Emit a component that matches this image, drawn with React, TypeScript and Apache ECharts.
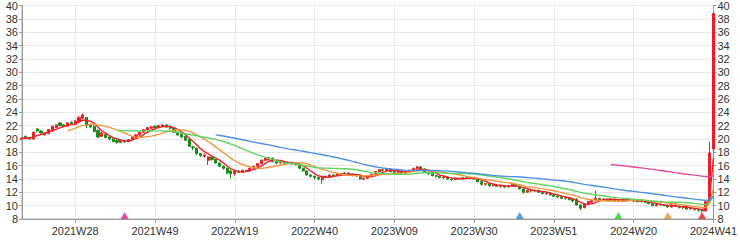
import React, { useEffect, useRef } from "react";
import * as echarts from "echarts";

// week categories: 2021W14 .. 2024W41 (2022W05 holiday week absent)
const weekRanges: [number, number, number][] = [
  [2021, 14, 52],
  [2022, 1, 52],
  [2023, 1, 52],
  [2024, 1, 41],
];
const skippedWeeks = ["2022W05"];
const categories: string[] = [];
weekRanges.forEach(([y, a, b]) => {
  for (let w = a; w <= b; w++) {
    const s = `${y}W${String(w).padStart(2, "0")}`;
    if (!skippedWeeks.includes(s)) categories.push(s);
  }
});

const opens = [
  20.0, 20.4, 20.2, 20.0, 21.5, 21.2, 20.6, 20.8, 21.2, 21.7,
  22.4, 22.1, 21.9, 22.5, 22.2, 22.6, 23.1, 23.2, 22.1, 21.9,
  21.3, 20.4, 20.7, 20.3, 20.0, 19.8, 19.5, 19.7, 19.6, 19.9,
  20.2, 20.6, 21.0, 21.3, 21.6, 21.9, 21.7, 21.9, 22.1, 21.9,
  21.6, 21.0, 20.7, 20.4, 19.9, 18.8, 18.6, 17.8, 17.4, 16.8,
  17.3, 16.9, 16.4, 15.9, 15.6, 15.2, 14.8, 15.2, 15.0, 15.3,
  15.2, 15.6, 15.9, 16.3, 16.8, 16.9, 17.1, 16.6, 16.4, 16.6,
  16.3, 16.5, 16.4, 16.2, 15.6, 15.2, 14.6, 14.4, 14.2, 13.9,
  14.4, 14.3, 14.6, 14.5, 14.8, 14.6, 14.9, 14.7, 14.5, 14.6,
  14.0, 14.1, 14.4, 14.7, 15.1, 15.4, 15.3, 15.5, 15.1, 15.0,
  15.2, 14.9, 15.1, 15.3, 15.6, 15.8, 15.5, 15.0, 14.8, 14.5,
  14.4, 14.2, 14.3, 14.0, 13.9, 14.1, 14.0, 14.2, 14.1, 14.2,
  14.0, 13.6, 13.2, 13.3, 13.0, 13.1, 12.9, 13.0, 12.8, 12.9,
  13.2, 12.9, 12.5, 12.0, 12.3, 12.2, 12.3, 12.0, 11.8, 11.9,
  11.6, 11.4, 11.3, 11.1, 11.2, 10.9, 11.0, 10.1, 9.7, 10.2,
  10.5, 10.8, 11.1, 10.9, 11.0, 10.8, 11.0, 10.8, 10.9, 10.7,
  10.9, 10.8, 10.7, 10.6, 10.7, 10.5, 10.3, 10.0, 10.2, 10.1,
  10.0, 9.8, 10.1, 9.9, 9.7, 9.8, 9.5, 9.6, 9.4, 9.3,
  9.2, 10.6, 18.5,
];
const closes = [
  20.1, 20.2, 20.0, 21.0, 21.2, 20.9, 20.9, 21.4, 21.9, 22.1,
  22.0, 21.9, 22.4, 22.3, 22.7, 23.2, 23.6, 22.0, 21.8, 21.1,
  20.3, 20.9, 20.2, 20.0, 19.6, 19.5, 19.8, 19.6, 19.9, 20.3,
  20.6, 21.0, 21.4, 21.7, 21.8, 21.7, 22.0, 22.1, 21.8, 21.6,
  21.0, 20.6, 20.3, 19.8, 18.9, 18.7, 17.8, 17.5, 17.6, 17.3,
  16.9, 16.4, 15.9, 15.6, 14.9, 14.8, 15.2, 15.0, 15.3, 15.2,
  15.6, 15.9, 16.3, 16.8, 17.1, 17.2, 16.6, 16.4, 16.6, 16.3,
  16.5, 16.4, 16.2, 15.6, 15.2, 14.6, 14.4, 14.2, 14.0, 14.4,
  14.3, 14.6, 14.5, 14.8, 14.6, 14.9, 14.7, 14.5, 14.6, 14.0,
  14.1, 14.4, 14.7, 15.1, 15.4, 15.3, 15.5, 15.1, 15.0, 15.2,
  14.9, 15.1, 15.3, 15.6, 15.8, 15.5, 15.0, 14.8, 14.5, 14.4,
  14.2, 14.3, 14.0, 13.9, 14.1, 14.0, 14.2, 14.1, 14.2, 14.0,
  13.6, 13.2, 13.3, 13.0, 13.1, 12.9, 13.0, 12.8, 12.9, 13.2,
  12.9, 12.5, 12.0, 12.3, 12.2, 12.3, 12.0, 11.8, 11.9, 11.6,
  11.4, 11.3, 11.1, 11.2, 10.9, 10.7, 10.1, 9.6, 10.2, 10.6,
  10.8, 11.1, 10.9, 11.0, 10.8, 11.0, 10.8, 10.9, 10.7, 10.9,
  10.8, 10.7, 10.6, 10.7, 10.5, 10.3, 10.0, 10.2, 10.1, 10.0,
  9.8, 10.1, 9.9, 9.7, 9.8, 9.5, 9.6, 9.4, 9.3, 9.2,
  10.6, 17.9, 38.8,
];
const lows = [
  19.9, 20.1, 19.9, 19.9, 21.0, 20.8, 20.5, 20.7, 21.1, 21.6,
  21.9, 21.8, 21.8, 22.1, 22.1, 22.5, 23.0, 21.6, 21.6, 21.0,
  20.1, 20.3, 20.1, 19.8, 19.5, 19.3, 19.4, 19.4, 19.5, 19.8,
  20.1, 20.5, 20.9, 21.2, 21.5, 21.6, 21.6, 21.8, 21.7, 21.4,
  20.9, 20.5, 20.1, 19.7, 18.8, 18.3, 17.6, 17.3, 17.2, 16.1,
  16.8, 16.3, 15.8, 15.4, 14.7, 14.1, 14.5, 14.9, 14.9, 15.1,
  15.1, 15.5, 15.8, 16.2, 16.7, 16.8, 16.5, 16.2, 16.3, 16.2,
  16.2, 16.1, 16.0, 15.5, 15.1, 14.5, 14.2, 13.9, 13.8, 13.3,
  14.1, 14.2, 14.3, 14.4, 14.5, 14.5, 14.5, 14.4, 14.3, 13.9,
  13.8, 14.0, 14.3, 14.6, 15.0, 15.1, 15.2, 15.0, 14.8, 14.9,
  14.8, 14.8, 15.0, 15.2, 15.4, 15.4, 14.9, 14.6, 14.4, 14.2,
  14.1, 14.0, 13.9, 13.7, 13.8, 13.9, 13.9, 14.0, 14.0, 13.9,
  13.5, 13.0, 13.0, 12.8, 12.9, 12.8, 12.7, 12.6, 12.7, 12.8,
  12.8, 12.4, 11.8, 11.9, 12.0, 12.1, 11.9, 11.7, 11.6, 11.5,
  11.3, 11.1, 11.0, 10.9, 10.8, 10.5, 10.0, 9.3, 9.6, 10.1,
  10.4, 10.7, 10.8, 10.8, 10.7, 10.7, 10.7, 10.6, 10.6, 10.6,
  10.6, 10.5, 10.5, 10.5, 10.4, 10.2, 9.9, 9.9, 10.0, 9.9,
  9.7, 9.7, 9.8, 9.6, 9.5, 9.4, 9.4, 9.3, 9.1, 9.0,
  9.1, 10.5, 18.2,
];
const highs = [
  20.2, 20.5, 20.3, 21.1, 21.6, 21.3, 21.0, 21.5, 22.0, 22.2,
  22.5, 22.2, 22.5, 22.6, 22.8, 23.4, 23.8, 23.3, 22.3, 22.0,
  21.4, 21.0, 20.8, 20.4, 20.1, 19.9, 19.9, 19.8, 20.0, 20.4,
  20.7, 21.1, 21.5, 21.8, 21.9, 22.0, 22.1, 22.2, 22.2, 22.0,
  21.7, 21.1, 20.8, 20.5, 20.0, 19.0, 18.7, 17.9, 17.8, 17.4,
  17.4, 17.0, 16.5, 16.0, 15.7, 15.3, 15.3, 15.3, 15.4, 15.4,
  15.7, 16.0, 16.4, 16.9, 17.2, 17.3, 17.2, 16.7, 16.7, 16.7,
  16.6, 16.6, 16.5, 16.3, 15.7, 15.3, 14.7, 14.5, 14.3, 14.5,
  14.5, 14.7, 14.7, 14.9, 14.9, 15.0, 15.0, 14.8, 14.7, 14.7,
  14.2, 14.5, 14.8, 15.2, 15.5, 15.5, 15.6, 15.6, 15.2, 15.3,
  15.3, 15.2, 15.4, 15.7, 15.9, 15.9, 15.6, 15.1, 14.9, 14.6,
  14.5, 14.4, 14.4, 14.1, 14.2, 14.2, 14.3, 14.3, 14.3, 14.3,
  14.1, 13.7, 13.4, 13.4, 13.2, 13.2, 13.1, 13.1, 13.0, 13.5,
  13.3, 13.0, 12.6, 12.4, 12.4, 12.4, 12.4, 12.1, 12.0, 12.0,
  11.7, 11.5, 11.4, 11.3, 11.3, 11.0, 11.1, 10.2, 10.3, 10.7,
  10.9, 12.2, 11.2, 11.1, 11.1, 11.1, 11.1, 11.0, 11.0, 11.0,
  11.0, 10.9, 10.8, 10.8, 10.8, 10.6, 10.4, 10.3, 10.3, 10.2,
  10.1, 10.2, 10.2, 10.0, 9.9, 9.9, 9.7, 9.7, 9.5, 9.4,
  10.8, 19.6, 38.8,
];

// signal markers along the bottom axis
const signalWeeks = ["2021W41", "2023W42", "2024W16", "2024W29", "2024W38"];
const signalColors = ["#e0208a", "#2a82e0", "#2ec52e", "#f08a2a", "#e81c1c"];

const maWindows = [5, 13, 26, 52, 156];
const maColors = ["#e8222a", "#f2973a", "#5ed35e", "#4b92e2", "#e6479c"];

function movingAverage(src: number[], n: number, partial: boolean) {
  return src.map((_, i) => {
    if (i < n - 1 && !partial) return "-";
    const start = Math.max(0, i - n + 1);
    const win = src.slice(start, i + 1);
    return +(win.reduce((a, b) => a + b, 0) / win.length).toFixed(3);
  });
}

const FONT = "Liberation Sans, Arial, sans-serif";
const labelEvery = (index: number) => index % 21 === 14;

export default function App() {
  const ref = useRef<HTMLDivElement>(null);
  useEffect(() => {
    if (!ref.current) return;
    const chart = echarts.init(ref.current, undefined, { renderer: "svg" });
    const candleData = opens.map((o, i) => [o, closes[i], lows[i], highs[i]]);
    const yAxisBase = {
      type: "value",
      min: 8,
      max: 40,
      interval: 2,
      axisLine: { show: true, lineStyle: { color: "#9a9a9a" } },
      axisTick: { show: true, length: 3, lineStyle: { color: "#9a9a9a" } },
      axisLabel: { fontSize: 11, color: "#333", fontFamily: FONT, margin: 4 },
    };
    chart.setOption({
      animation: false,
      backgroundColor: "#fff",
      grid: {
        left: 22,
        right: 26,
        top: 2,
        bottom: 21,
        show: true,
        borderColor: "#aaaaaa",
        borderWidth: 1,
        backgroundColor: "transparent",
      },
      xAxis: {
        type: "category",
        data: categories,
        boundaryGap: false,
        axisLine: { lineStyle: { color: "#9a9a9a" } },
        axisTick: { show: true, interval: labelEvery, length: 4, lineStyle: { color: "#9a9a9a" } },
        axisLabel: { interval: labelEvery, fontSize: 11, color: "#333", fontFamily: FONT, margin: 6 },
        splitLine: { show: true, interval: labelEvery, lineStyle: { color: "#e6e6e6" } },
      },
      yAxis: [
        { ...yAxisBase, position: "left", splitLine: { show: true, lineStyle: { color: "#e6e6e6" } } },
        { ...yAxisBase, position: "right", splitLine: { show: false } },
      ],
      series: [
        {
          type: "candlestick",
          data: candleData,
          barWidth: "68%",
          itemStyle: {
            color: "#ee1c25",
            color0: "#1b8a1b",
            borderColor: "#ee1c25",
            borderColor0: "#1b8a1b",
            borderWidth: 1,
          },
        },
        ...maWindows.map((n, k) => ({
          type: "line",
          data: movingAverage(closes, n, k === 0),
          symbol: "none",
          smooth: false,
          lineStyle: { color: maColors[k], width: 1.4 },
          z: 3,
        })),
        {
          type: "scatter",
          data: signalWeeks.map((w, i) => ({
            value: [w, 8],
            itemStyle: { color: signalColors[i] },
          })),
          symbol: "triangle",
          symbolSize: [8, 7],
          symbolOffset: [0, -3.5],
          z: 5,
        },
      ],
    });
    return () => chart.dispose();
  }, []);
  return (
    <div
      ref={ref}
      style={{ position: "fixed", left: 0, top: 0, width: 740, height: 240, background: "#fff" }}
    />
  );
}
